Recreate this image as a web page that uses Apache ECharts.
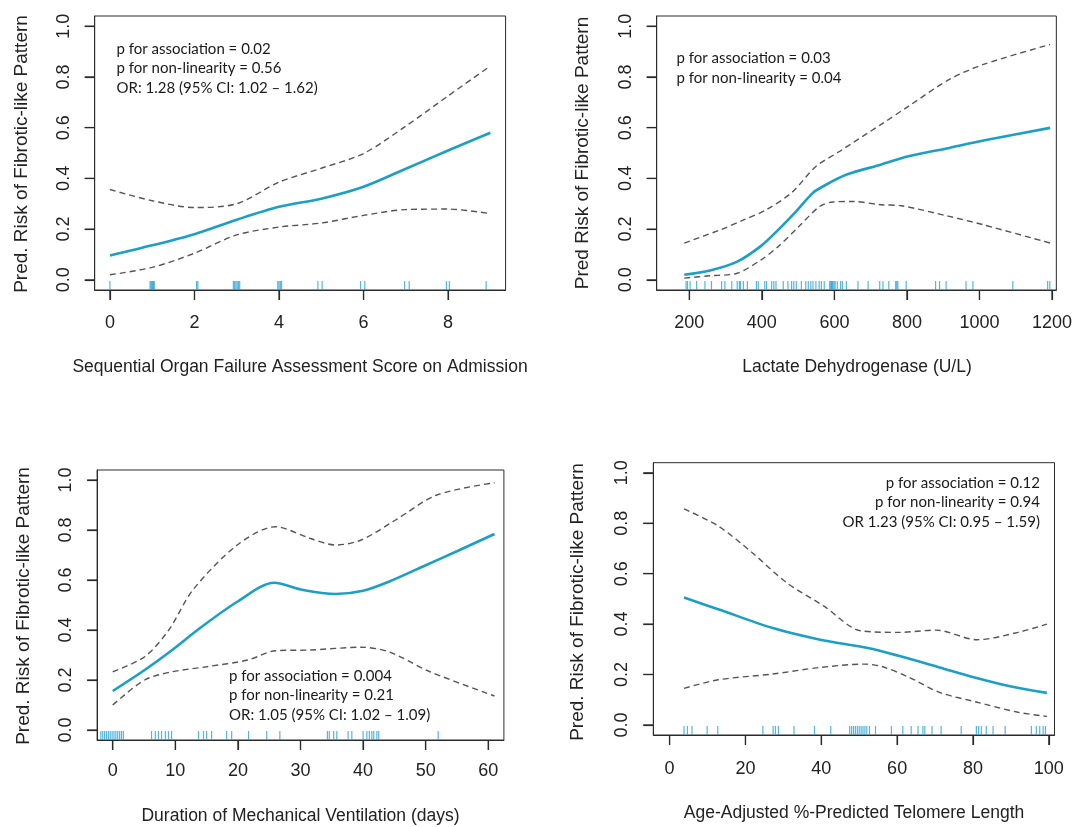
<!DOCTYPE html>
<html><head><meta charset="utf-8">
<script src="https://cdn.jsdelivr.net/npm/echarts@6/dist/echarts.min.js"></script>
<style>html,body{margin:0;padding:0;background:#fff}#c{width:1075px;height:827px}</style>
</head><body><div id="c"></div>
<script>
// ---------- Panel A: SOFA score ----------
const sofaFitX   = [0, 1, 2, 3, 4, 5, 6, 7, 8, 9];
const sofaFitY   = [0.096, 0.136, 0.18, 0.237, 0.288, 0.32, 0.367, 0.438, 0.51, 0.58];
const sofaUpX    = [0, 1, 2, 3, 4, 5, 6, 7, 8, 9];
const sofaUpY    = [0.356, 0.312, 0.285, 0.30, 0.385, 0.44, 0.498, 0.606, 0.725, 0.843];
const sofaLoX    = [0, 1, 2, 3, 4, 5, 6, 7, 8, 9];
const sofaLoY    = [0.02, 0.049, 0.105, 0.177, 0.208, 0.224, 0.254, 0.277, 0.279, 0.261];
const sofaRug    = [0, 0.95, 0.97, 0.99, 1.01, 1.03, 1.05, 2.05, 2.08, 2.92, 2.95, 2.98, 3.01, 3.04, 3.07,
                    3.97, 4.0, 4.03, 4.06, 4.92, 5.02, 5.93, 6.03, 6.97, 7.08, 7.96, 8.03, 8.9];
const sofaTicks  = [0, 2, 4, 6, 8];
const sofaText   = ["p for association = 0.02", "p for non-linearity = 0.56", "OR: 1.28 (95% CI: 1.02 \u2013 1.62)"];

// ---------- Panel B: LDH ----------
const ldhFitX = [186, 257, 332, 398, 445, 492, 540, 568, 634, 728, 804, 917, 1011, 1195];
const ldhFitY = [0.02, 0.037, 0.072, 0.134, 0.197, 0.266, 0.342, 0.368, 0.415, 0.454, 0.487, 0.52, 0.549, 0.599];
const ldhUpX  = [186, 285, 351, 412, 483, 549, 615, 728, 804, 917, 1011, 1195];
const ldhUpY  = [0.145, 0.197, 0.237, 0.276, 0.345, 0.447, 0.507, 0.612, 0.684, 0.79, 0.849, 0.928];
const ldhLoX  = [186, 257, 332, 398, 445, 502, 559, 596, 652, 728, 785, 917, 1011, 1195];
const ldhLoY  = [0.007, 0.016, 0.026, 0.079, 0.131, 0.21, 0.289, 0.307, 0.309, 0.296, 0.292, 0.25, 0.217, 0.145];
const ldhRug  = [191, 195, 202, 220, 243, 261, 289, 298, 317, 332, 338, 341, 349, 360, 385, 390, 408, 413,
                 427, 433, 439, 459, 472, 482, 488, 495, 509, 521, 528, 535, 541, 549, 558, 564, 572, 587,
                 590, 592, 594, 596, 599, 602, 608, 617, 622, 633, 665, 693, 725, 734, 750, 769, 772, 775,
                 798, 879, 890, 908, 963, 982, 1092, 1188, 1194];
const ldhTicks = [200, 400, 600, 800, 1000, 1200];
const ldhText  = ["p for association = 0.03", "p for non-linearity = 0.04"];

// ---------- Panel C: Mechanical ventilation ----------
const mvFitX = [0, 5.1, 9.5, 13.9, 19.9, 25.8, 30.4, 35.6, 40, 44.1, 50.1, 55, 61];
const mvFitY = [0.156, 0.24, 0.32, 0.407, 0.513, 0.589, 0.56, 0.544, 0.557, 0.593, 0.66, 0.715, 0.784];
const mvUpX  = [0, 5.1, 8.95, 12.8, 19.9, 26, 31.5, 35.6, 39.7, 45.2, 51.8, 61];
const mvUpY  = [0.233, 0.293, 0.4, 0.56, 0.74, 0.813, 0.767, 0.74, 0.76, 0.84, 0.94, 0.989];
const mvLoX  = [0, 5.1, 9.5, 15, 21.6, 26, 31.5, 39.7, 44.1, 50.7, 61];
const mvLoY  = [0.1, 0.2, 0.233, 0.253, 0.28, 0.317, 0.32, 0.331, 0.313, 0.233, 0.136];
const mvRug  = [-1.9, -1.6, -1.3, -1.0, -0.7, -0.4, -0.1, 0.2, 0.5, 0.8, 1.1, 1.4, 1.7,
                6.2, 6.8, 7.3, 7.8, 8.4, 8.9, 9.4, 13.7, 14.5, 15.0, 15.8, 18.2, 19.0, 21.7, 24.6, 26.7,
                34.3, 34.6, 35.3, 35.8, 37.6, 38.2, 40.0, 40.6, 41.0, 41.4, 41.7, 42.2, 42.5, 52.0];
const mvTicks = [0, 10, 20, 30, 40, 50, 60];
const mvText  = ["p for association = 0.004", "p for non-linearity = 0.21", "OR: 1.05 (95% CI: 1.02 \u2013 1.09)"];

// ---------- Panel D: Telomere length ----------
const telFitX = [3.8, 12.8, 27.2, 39.7, 52.3, 60.4, 71.2, 80.2, 90.1, 99.5];
const telFitY = [0.505, 0.459, 0.384, 0.338, 0.305, 0.274, 0.228, 0.189, 0.152, 0.127];
const telUpX  = [3.8, 12.8, 21.8, 30.8, 40.6, 50.5, 60.4, 70.3, 81.1, 91.9, 99.5];
const telUpY  = [0.857, 0.789, 0.683, 0.565, 0.472, 0.373, 0.367, 0.376, 0.338, 0.367, 0.4];
const telLoX  = [3.8, 12.8, 27.2, 39.7, 51.4, 55.9, 63.1, 71.2, 81.1, 91.9, 99.5];
const telLoY  = [0.145, 0.179, 0.202, 0.228, 0.241, 0.232, 0.189, 0.129, 0.09, 0.05, 0.034];
const telRug  = [3.8, 4.7, 5.9, 9.9, 12.7, 24.6, 27.3, 27.9, 28.7, 32.8, 38.2, 42.5,
                 47.5, 48.0, 48.5, 49.0, 49.5, 50.0, 50.5, 51.0, 51.5, 52.0, 52.7,
                 54.3, 58.5, 61.5, 63.7, 65.5, 66.8, 67.3, 69.2, 71.6, 76.9, 80.9, 81.5, 82.2,
                 83.5, 85.3, 88.5, 95.4, 96.7, 97.6, 98.5, 99.1];
const telTicks = [0, 20, 40, 60, 80, 100];
const telText  = ["p for association = 0.12", "p for non-linearity = 0.94", "OR 1.23 (95% CI: 0.95 \u2013 1.59)"];

const yTicks = [0, 0.2, 0.4, 0.6, 0.8, 1.0];
const yTitleA = "Pred. Risk of Fibrotic-like Pattern";
const yTitleB = "Pred Risk of Fibrotic-like Pattern";
const xTitles = ["Sequential Organ Failure Assessment Score on Admission", "Lactate Dehydrogenase (U/L)",
                 "Duration of Mechanical Ventilation (days)", "Age-Adjusted %-Predicted Telomere Length"];

function pairs(xs, ys) { return xs.map((x, i) => [x, ys[i]]); }

const AX = "'Liberation Sans', Arial, sans-serif";
const TX = "Lato, 'Open Sans', sans-serif";
const FIT = '#1c9fc6', CI = '#555555', RUG = '#2aa4d5', INK = '#2b2b2b';
const TICK_LEN = 10;

const panels = [
  { grid: {left: 94.7, top: 16, width: 410.9, height: 274}, xMin: -0.36, xMax: 9.36, xTicks: sofaTicks,
    fit: pairs(sofaFitX, sofaFitY), up: pairs(sofaUpX, sofaUpY), lo: pairs(sofaLoX, sofaLoY), rug: sofaRug,
    xm: 24, ym: 22, yTitle: yTitleA, yTitleX: 21.5, yTitleY: 154, xTitleX: 300, xTitleY: 367,
    text: sofaText, tx: 116.5, ty: 49, talign: 'left' },
  { grid: {left: 656.7, top: 16, width: 400.2, height: 274}, xMin: 110, xMax: 1212, xTicks: ldhTicks,
    fit: pairs(ldhFitX, ldhFitY), up: pairs(ldhUpX, ldhUpY), lo: pairs(ldhLoX, ldhLoY), rug: ldhRug,
    xm: 24, ym: 22, yTitle: yTitleB, yTitleX: 582.7, yTitleY: 153, xTitleX: 857, xTitleY: 367,
    text: ldhText, tx: 676.5, ty: 58.5, talign: 'left' },
  { grid: {left: 97.1, top: 470, width: 406.8, height: 270}, xMin: -2.5, xMax: 62.5, xTicks: mvTicks,
    fit: pairs(mvFitX, mvFitY), up: pairs(mvUpX, mvUpY), lo: pairs(mvLoX, mvLoY), rug: mvRug,
    xm: 22, ym: 22, yTitle: yTitleA, yTitleX: 24, yTitleY: 606, xTitleX: 300.5, xTitleY: 816,
    text: mvText, tx: 229, ty: 676, talign: 'left' },
  { grid: {left: 653.3, top: 462.7, width: 401.2, height: 272.3}, xMin: -4.3, xMax: 101.5, xTicks: telTicks,
    fit: pairs(telFitX, telFitY), up: pairs(telUpX, telUpY), lo: pairs(telLoX, telLoY), rug: telRug,
    xm: 25, ym: 22, yTitle: yTitleA, yTitleX: 577.5, yTitleY: 602, xTitleX: 854, xTitleY: 813,
    text: telText, tx: 1040, ty: 483, talign: 'right' }
];

const Y_MIN = -0.04, Y_MAX = 1.04;
const option = { animation: false, grid: [], xAxis: [], yAxis: [], series: [], graphic: [] };

function tickSeries(i, data, dir) {
  return {
    type: 'custom', xAxisIndex: i, yAxisIndex: i, data: data, clip: false, silent: true, z: 5,
    renderItem: (params, api) => {
      const pt = api.coord([api.value(0), api.value(1)]);
      const shape = dir === 'down'
        ? { x1: pt[0], y1: pt[1], x2: pt[0], y2: pt[1] + TICK_LEN }
        : { x1: pt[0], y1: pt[1], x2: pt[0] - TICK_LEN, y2: pt[1] };
      return { type: 'line', shape: shape, style: { stroke: INK, lineWidth: 1.2 } };
    }
  };
}

panels.forEach((p, i) => {
  option.grid.push(Object.assign({ show: true, borderColor: INK, borderWidth: 1 }, p.grid));
  option.xAxis.push({
    type: 'value', gridIndex: i, min: p.xMin, max: p.xMax,
    axisLine: { show: true, onZero: false, lineStyle: { color: INK, width: 1 } }, splitLine: { show: false },
    axisTick: { show: true, inside: false, length: TICK_LEN, customValues: p.xTicks, lineStyle: { color: INK, width: 1.2 } },
    axisLabel: { show: true, margin: p.xm, customValues: p.xTicks, color: '#222', fontSize: 18, fontFamily: AX, formatter: v => String(v) }
  });
  option.yAxis.push({
    type: 'value', gridIndex: i, min: Y_MIN, max: Y_MAX,
    axisLine: { show: true, onZero: false, lineStyle: { color: INK, width: 1 } }, splitLine: { show: false },
    axisTick: { show: true, inside: false, length: TICK_LEN, customValues: yTicks, lineStyle: { color: INK, width: 1.2 } },
    axisLabel: { show: true, margin: p.ym, rotate: 90, customValues: yTicks, color: '#222', fontSize: 18, fontFamily: AX, formatter: v => v.toFixed(1) }
  });
  option.series.push(
    { type: 'line', xAxisIndex: i, yAxisIndex: i, data: p.up, showSymbol: false, smooth: 0.3, z: 2,
      lineStyle: { color: CI, width: 1.4, type: [6, 4] } },
    { type: 'line', xAxisIndex: i, yAxisIndex: i, data: p.lo, showSymbol: false, smooth: 0.3, z: 2,
      lineStyle: { color: CI, width: 1.4, type: [6, 4] } },
    { type: 'line', xAxisIndex: i, yAxisIndex: i, data: p.fit, showSymbol: false, smooth: 0.3, z: 3,
      lineStyle: { color: FIT, width: 2.6 } },
    { type: 'scatter', xAxisIndex: i, yAxisIndex: i, data: p.rug.map(x => [x, Y_MIN]), symbol: 'rect',
      symbolSize: [1.2, 9], symbolOffset: [0, -4.5], itemStyle: { color: RUG }, z: 4, silent: true },
    tickSeries(i, p.xTicks.map(t => [t, Y_MIN]), 'down'),
    tickSeries(i, yTicks.map(v => [p.xMin, v]), 'left')
  );
  option.graphic.push({
    type: 'text', x: p.yTitleX, y: p.yTitleY, rotation: Math.PI / 2,
    style: { text: p.yTitle, font: `19px ${AX}`, fill: '#222', align: 'center', verticalAlign: 'middle' }
  });
  option.graphic.push({
    type: 'text', x: p.xTitleX, y: p.xTitleY,
    style: { text: xTitles[i], font: `17.5px ${AX}`, fill: '#222', align: 'center', verticalAlign: 'middle' }
  });
  p.text.forEach((t, k) => {
    option.graphic.push({
      type: 'text', x: p.tx, y: p.ty + k * 19.6,
      style: { text: t, font: `15px ${TX}`, fill: '#1a1a1a', align: p.talign, verticalAlign: 'middle' }
    });
  });
});

const chart = echarts.init(document.getElementById('c'));
chart.setOption(option);
</script>
</body></html>
